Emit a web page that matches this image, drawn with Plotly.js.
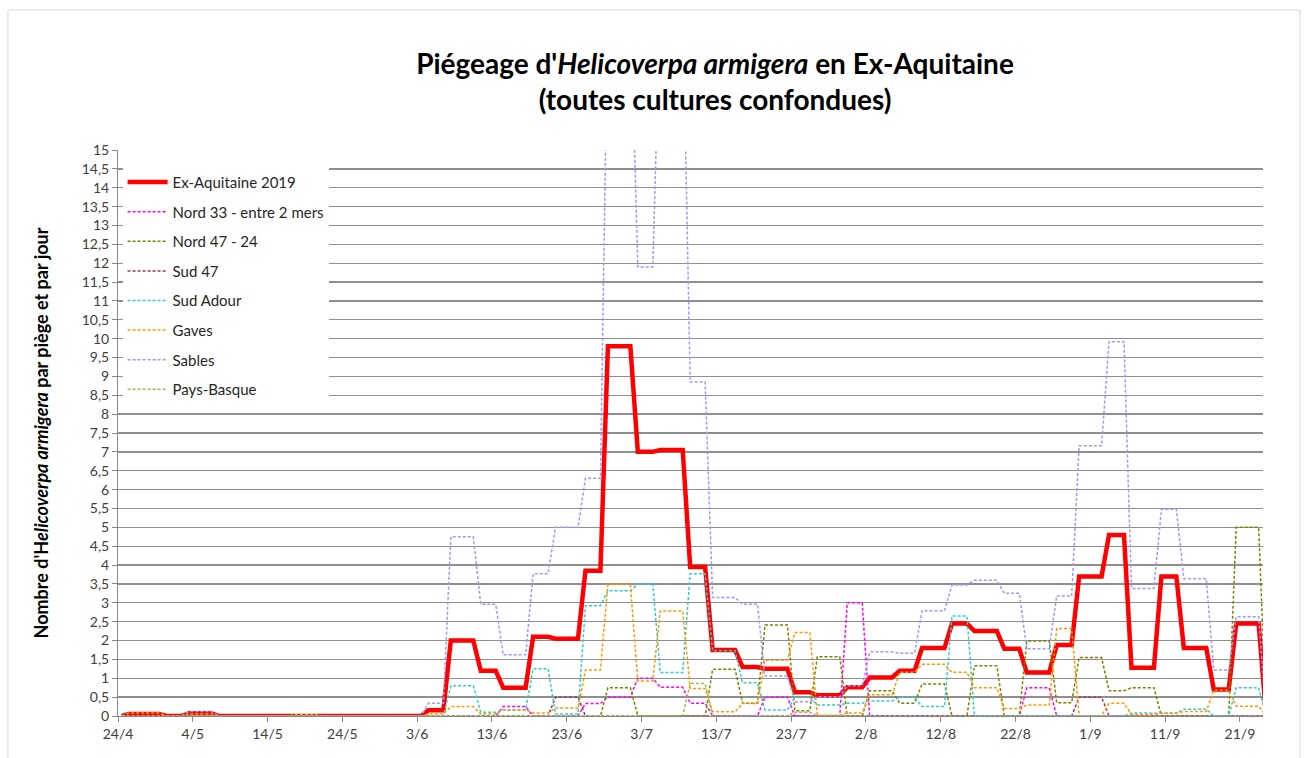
<!DOCTYPE html>
<html><head><meta charset="utf-8">
<script src="https://cdn.plot.ly/plotly-3.0.1.min.js"></script>
<style>html,body{margin:0;padding:0;background:#fff}#chart{width:1306px;height:758px}</style>
</head><body><div id="chart"></div>
<script>
// Last day of each trapping period (readings Monday / Thursday)
const periodEnds = [
  '2019-04-24','2019-04-29','2019-05-02','2019-05-06','2019-05-09','2019-05-13','2019-05-16','2019-05-20',
  '2019-05-23','2019-05-27','2019-05-30','2019-06-03','2019-06-06','2019-06-10','2019-06-13','2019-06-17',
  '2019-06-20','2019-06-24','2019-06-27','2019-07-01','2019-07-04','2019-07-08','2019-07-11','2019-07-15',
  '2019-07-18','2019-07-22','2019-07-25','2019-07-29','2019-08-01','2019-08-05','2019-08-08','2019-08-12',
  '2019-08-15','2019-08-19','2019-08-22','2019-08-26','2019-08-29','2019-09-02','2019-09-05','2019-09-09',
  '2019-09-12','2019-09-16','2019-09-19','2019-09-23','2019-09-24'
];
// Moths per trap per day, one value per period
const exAquitaine2019 = [0,0.05,0,0.07,0,0,0,0.01,0,0,0,0,0.15,2.0,1.2,0.75,2.1,2.05,3.85,9.8,7.0,7.05,3.95,1.75,1.3,1.25,0.63,0.55,0.76,1.02,1.2,1.8,2.45,2.25,1.78,1.15,1.88,3.7,4.8,1.28,3.7,1.8,0.7,2.45,0];
const nord33 =        [0,0,0,0,0,0,0,0,0,0,0,0,0,0,0,0.25,0,0,0.33,0.5,1.0,0.76,0.34,0,0,0.5,0,0,3.0,0,0,0,0,0,0,0.75,0,0,0,0,0,0,0,0,0];
const nord47_24 =     [0,0,0,0,0,0,0,0,0,0,0,0,0,0,0,0,0,0,0,0.75,0,0,0,1.24,0.34,2.41,0.14,1.57,0,0.67,0.34,0.85,0,1.33,0,1.99,0.35,1.55,0.67,0.75,0,0,0,5.0,0];
const sud47 =         [0,0,0,0,0,0,0,0,0,0,0,0,0,0,0,0,0,0.5,0,0,0,0,0,0,0,0,0,0,0,0,0,0,0,0,0,0,0,0.5,0,0,0,0,0,0,0];
const sudAdour =      [0,0,0,0,0,0,0,0,0,0,0,0,0,0.8,0.1,0.16,1.25,0.05,2.92,3.32,3.5,1.15,3.77,1.73,0.88,0.16,0.5,0.29,0.34,0.4,0.5,0.25,2.65,0,0,0,0,0,0,0.08,0.07,0.18,0,0.75,0];
const gaves =         [0,0.08,0,0.05,0,0,0,0.03,0,0,0,0,0.05,0.25,0.05,0.16,0.08,0.21,1.22,3.49,0.93,2.78,0.73,0.11,0.33,1.48,2.21,0.02,0.08,0.56,1.16,1.37,1.16,0.75,0.2,0.29,2.32,0,0.34,0.04,0.08,0.12,0.68,0.26,0];
const sables =        [0,0,0,0.12,0,0,0,0,0,0,0,0,0.34,4.75,2.96,1.62,3.77,5.0,6.3,19,11.9,19,8.85,3.14,2.96,1.06,0.38,0.51,0.8,1.7,1.66,2.79,3.47,3.6,3.25,1.78,3.18,7.16,9.92,3.38,5.48,3.64,1.22,2.63,0];
const paysBasque =    [0,0,0,0,0,0,0,0,0,0,0,0,0,0,0,0,0,0,0,0,0,0,0.86,0,0,0,0.1,0,0,0,0,0,0,0,0,0,0,0,0,0,0,0,0,0,0];

const seriesNames = ['Ex-Aquitaine 2019','Nord 33 - entre 2 mers','Nord 47 - 24','Sud 47','Sud Adour','Gaves','Sables','Pays-Basque'];
const seriesData = [exAquitaine2019, nord33, nord47_24, sud47, sudAdour, gaves, sables, paysBasque];

// styles
const colors = ['#FF0000','#FF00FF','#808000','#993366','#33CCCC','#FF9900','#9999FF','#9BBB59'];

function addDays(s, n){ const d = new Date(s+'T00:00:00Z'); d.setUTCDate(d.getUTCDate()+n); return d.toISOString().slice(0,10); }

const traces = seriesData.map((vals, k) => {
  const xs = [], ys = [];
  vals.forEach((v, i) => {
    const e = periodEnds[i];
    const s = i === 0 ? e : addDays(periodEnds[i-1], 1);
    xs.push(s + ' 12:00'); ys.push(v);
    if (s !== e) { xs.push(e + ' 12:00'); ys.push(v); }
  });
  const main = k === 0;
  return {
    type: 'scatter', mode: 'lines', x: xs, y: ys, name: seriesNames[k],
    legendgroup: 'g'+k,
    line: { color: colors[k], width: main ? 4.5 : 1.5, dash: main ? 'solid' : '3px,2px' },
    hoverinfo: 'skip'
  };
});

const layout = {
  width: 1306, height: 758,
  margin: { l: 118, r: 43, t: 150, b: 42 },
  paper_bgcolor: '#fff', plot_bgcolor: '#fff',
  separators: ',.',
  font: { family: 'Lato, sans-serif', size: 14, color: '#262626' },
  title: {
    text: "<b>Piégeage d'<i>Helicoverpa armigera</i> en Ex-Aquitaine<br>(toutes cultures confondues)</b>",
    font: { family: 'Lato, sans-serif', size: 28, color: '#000' },
    x: 715/1306, xanchor: 'center', xref: 'container',
    y: 1 - 74/758, yanchor: 'top', yref: 'container'
  },
  xaxis: {
    type: 'date', range: ['2019-04-24 00:00', '2019-09-24 02:00'],
    tick0: '2019-04-24', dtick: 864000000, tickformat: '%-d/%-m',
    ticks: 'outside', ticklen: 5, tickcolor: '#888', tickwidth: 1,
    showgrid: false, showline: true, linecolor: '#888', linewidth: 1,
    zeroline: false, tickfont: { size: 14, color: '#404040' }
  },
  yaxis: {
    range: [0, 15], dtick: 0.5, tick0: 0,
    ticks: 'outside', ticklen: 5, tickcolor: '#888',
    showgrid: true, gridcolor: '#8f8f8f', gridwidth: 1.3,
    showline: true, linecolor: '#888', linewidth: 1, zeroline: false,
    tickfont: { size: 14, color: '#404040' },
    title: { text: "<b>Nombre d'H<i>elicoverpa armigera</i> par piège et par jour</b>", font: { size: 18, color: '#000' }, standoff: 28 }
  },
  legend: {
    x: 0.004, y: 0.972, xanchor: 'left', yanchor: 'top',
    bgcolor: '#ffffff', borderwidth: 0, traceorder: 'grouped', tracegroupgap: 7.1,
    font: { size: 15, color: '#262626' }, itemwidth: 40
  },
  shapes: [{ type: 'rect', xref: 'paper', yref: 'paper', x0: -0.0961, x1: 1.0323, y0: -0.08, y1: 1.2473,
             line: { color: '#d9d9d9', width: 1 }, fillcolor: 'rgba(0,0,0,0)', layer: 'below' }],
  showlegend: true, hovermode: false
};

Plotly.newPlot('chart', traces, layout, { displayModeBar: false, staticPlot: true });
</script>
</body></html>
